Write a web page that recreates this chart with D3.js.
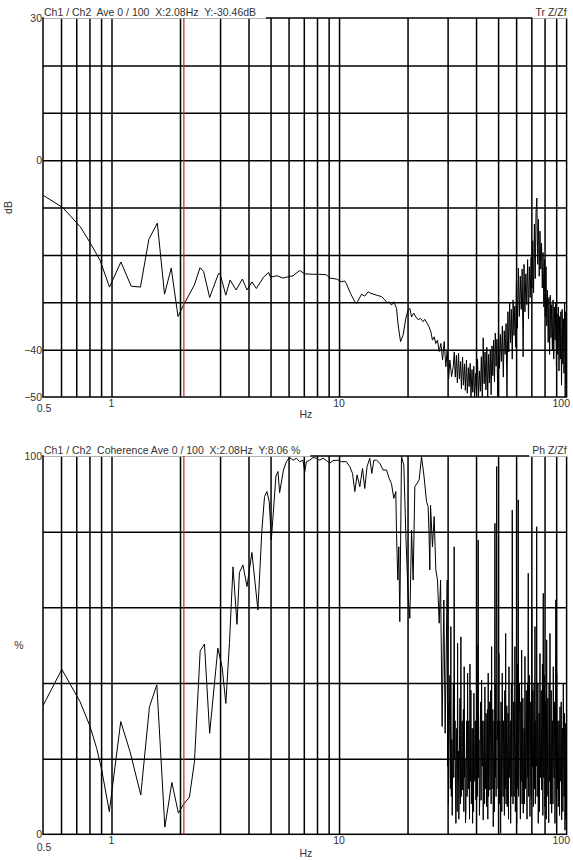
<!DOCTYPE html>
<meta charset="utf-8">
<style>
  body { margin: 0; background: #fff; }
  svg text { font-family: "Liberation Sans", Arial, sans-serif; font-size: 10.5px; fill: #333; }
</style>
<body>

<div class="chart"></div>

<script src="https://d3js.org/d3.v7.min.js"></script>

<script>

// ---- data (frequency in Hz, value) ----
var cursorHz = 2.08;

var xGridHz = [0.6, 0.7, 0.8, 0.9, 1, 2, 3, 4, 5, 6, 7, 8, 9, 10, 20, 30, 40, 50, 60, 70, 80, 90];
var xLabelHz = [1, 10, 100];

var dbGrid = [-40, -30, -20, -10, 0, 10, 20];
var dbLabels = [30, 0, -40, -50];
var pctGrid = [20, 40, 60, 80];
var pctLabels = [100, 0];

// transfer function Z/Zf, dB
var transferDb = [
  [0.50,-7.4],[0.61,-10.0],[0.73,-14.1],[0.80,-17.2],[0.89,-21.1],[0.98,-26.8],[1.10,-21.5],[1.22,-26.6],
  [1.34,-26.8],[1.46,-16.7],[1.59,-13.3],[1.71,-28.3],[1.83,-22.8],[1.96,-33.0],[2.08,-30.46],[2.31,-26.4],
  [2.45,-22.7],[2.54,-23.5],[2.70,-29.0],[2.95,-24.0],[3.00,-24.0],[3.18,-28.5],[3.32,-25.3],[3.53,-27.4],
  [3.76,-25.1],[3.94,-27.4],[4.14,-25.7],[4.33,-27.1],[4.66,-24.7],[4.90,-23.7],[5.00,-24.7],[5.33,-24.4],
  [5.67,-24.9],[6.00,-24.6],[6.28,-24.4],[6.71,-23.3],[7.07,-24.0],[7.69,-24.1],[8.23,-24.1],[8.81,-24.2],
  [9.10,-24.9],[9.75,-25.1],[10.24,-25.7],[10.59,-25.5],[10.77,-26.1],[11.22,-28.1],[11.73,-29.9],[11.97,-30.2],
  [12.55,-28.3],[12.97,-28.7],[13.41,-27.8],[13.76,-28.1],[14.61,-28.5],[15.37,-28.8],[15.89,-29.5],[16.27,-30.1],
  [16.60,-29.9],[17.00,-30.6],[17.40,-29.9],[17.89,-31.3],[18.18,-34.8],[18.63,-38.3],[19.12,-36.9],[19.65,-33.4],
  [20.12,-31.6],[20.47,-31.3],[20.83,-33.1],[21.31,-32.3],[21.75,-33.1],[22.27,-33.7],[22.80,-33.4],[23.42,-34.1],
  [23.81,-33.6],[24.38,-34.4],[24.85,-35.2],[25.31,-36.2],[25.74,-38.0],[26.18,-37.3],[26.63,-38.7],[27.08,-38.0],
  [27.55,-40.4],[28.02,-38.7],[28.50,-42.2],[28.98,-38.3],[29.47,-43.6],[29.87,-40.1],[30.30,-46.1],[30.70,-42.2],
  [31.22,-45.7],[31.75,-43.6],[32.1,-40.5],[32.4,-45.8],[32.8,-41.2],[33.1,-47.0],[33.5,-40.8],[33.8,-46.2],
  [34.2,-42.5],[34.5,-48.3],[34.9,-41.6],[35.2,-47.5],[35.6,-43.0],[35.9,-48.6],[36.3,-42.2],[36.6,-49.2],
  [37.0,-43.8],[37.3,-47.8],[37.7,-42.9],[38.0,-50.0],[38.4,-44.2],[38.7,-49.0],[39.1,-43.5],[39.4,-50.0],
  [39.8,-45.0],[40.2,-49.6],[40.6,-42.0],[41.0,-50.0],[41.4,-44.5],[41.8,-48.8],[42.2,-41.5],[42.6,-50.0],
  [43.0,-37.5],[43.4,-47.2],[43.8,-40.5],[44.2,-48.5],[44.6,-39.5],[45.0,-50.0],[45.4,-41.0],[45.8,-47.0],
  [46.2,-40.0],[46.6,-49.5],[47.0,-39.2],[47.4,-45.5],[47.8,-38.0],[48.2,-46.8],[48.6,-36.5],[49.0,-43.5],
  [49.4,-37.8],[49.8,-50.0],[50.2,-35.5],[50.7,-44.0],[51.2,-36.8],[51.7,-42.5],[52.2,-35.0],[52.7,-45.8],
  [53.2,-36.0],[53.7,-41.0],[54.2,-34.5],[54.7,-50.0],[55.2,-32.0],[55.7,-40.5],[56.2,-30.0],[56.7,-38.5],
  [57.2,-31.5],[57.7,-42.0],[58.2,-29.5],[58.7,-37.0],[59.2,-30.8],[59.7,-39.5],[60.2,-25.0],[60.8,-35.5],
  [61.4,-22.8],[62.0,-33.0],[62.6,-24.5],[63.2,-31.5],[63.8,-23.0],[64.4,-41.5],[65.0,-22.0],[65.6,-32.0],
  [66.2,-24.0],[66.8,-30.5],[67.4,-21.0],[68.0,-33.5],[68.6,-22.5],[69.2,-29.0],[69.8,-20.5],[70.4,-27.0],
  [71.0,-17.0],[71.6,-28.0],[72.2,-13.5],[72.8,-25.0],[73.4,-11.0],[74.0,-8.0],[74.6,-22.0],[75.2,-12.5],
  [75.8,-24.5],[76.4,-15.0],[77.0,-23.0],[77.6,-17.5],[78.2,-27.0],[78.8,-19.5],[79.4,-31.0],[80.0,-21.0],
  [80.6,-33.0],[81.2,-22.5],[81.8,-35.0],[82.4,-27.5],[83.0,-38.5],[83.6,-29.0],[84.2,-41.0],[84.8,-28.5],
  [85.4,-37.5],[86.0,-30.5],[86.6,-40.0],[87.2,-29.5],[87.8,-42.0],[88.4,-31.0],[89.0,-38.0],[89.6,-30.0],
  [90.2,-43.5],[90.8,-32.5],[91.4,-41.0],[92.0,-31.0],[92.6,-44.5],[93.2,-33.0],[93.8,-42.0],[94.4,-32.0],
  [95.0,-47.5],[95.6,-31.5],[96.2,-43.0],[96.8,-33.5],[97.4,-45.0],[98.0,-30.0],[98.6,-50.0],[99.2,-32.0],
  [99.8,-44.0]
];

// coherence, %
var coherencePct = [
  [0.50,34.0],[0.605,43.6],[0.727,35.1],[0.805,28.5],[0.861,22.7],[0.906,17.0],[0.978,6.0],[1.098,29.8],
  [1.207,21.8],[1.345,10.4],[1.468,33.7],[1.582,39.5],[1.716,1.9],[1.842,13.7],[1.968,5.6],[2.08,8.06],
  [2.20,9.8],[2.315,19.2],[2.453,48.5],[2.562,50.3],[2.70,26.7],[2.934,49.2],[3.065,44.1],[3.18,34.6],
  [3.30,50.7],[3.42,70.7],[3.56,55.5],[3.65,69.2],[3.78,71.2],[3.94,65.5],[4.14,74.5],[4.40,59.3],
  [4.58,80.4],[4.705,89.3],[4.82,90.6],[4.935,87.9],[5.04,77.8],[5.28,94.7],[5.39,95.9],[5.48,90.3],
  [5.70,96.3],[5.87,98.5],[6.07,99.6],[6.28,98.9],[6.50,99.4],[6.71,98.5],[6.94,98.9],[7.07,95.9],
  [7.19,98.5],[7.43,98.9],[7.69,99.6],[7.96,99.4],[8.23,98.9],[8.51,99.4],[8.81,98.8],[9.10,98.1],
  [9.41,98.8],[9.90,98.9],[10.24,98.5],[10.77,98.5],[11.14,97.2],[11.46,95.4],[11.73,90.6],[12.00,95.0],
  [12.34,91.9],[12.68,96.7],[12.97,91.4],[13.28,97.2],[13.65,99.4],[13.93,95.4],[14.22,98.9],[14.61,98.9],
  [15.10,98.1],[15.61,96.3],[16.16,96.3],[16.60,94.1],[17.00,92.7],[17.40,88.8],[17.76,90.6],[17.89,79.6],
  [18.12,67.2],[18.31,76.0],[18.49,56.2],[18.81,99.8],[19.26,97.6],[19.65,79.6],[20.12,62.8],[20.47,57.1],
  [20.83,80.4],[21.17,67.2],[21.53,91.9],[22.04,92.8],[22.49,93.7],[23.04,99.8],[23.59,95.0],[24.23,88.0],
  [24.63,86.6],[24.85,79.6],[25.06,69.9],[25.24,87.0],[25.74,76.0],[26.18,84.0],[26.63,69.9],[27.08,67.2],
  [27.55,55.8],[27.93,67.2],[28.38,28.5],[28.88,61.9],[29.26,26.7],[29.87,67.2],
  [30.0,18],[30.1,35],[30.25,8],[30.38,20.5],[30.55,30],[30.7,42],[30.85,12],[31.00,54.9],
  [31.15,10],[31.3,25],[31.42,5],[31.54,16.1],[31.67,28],[31.8,40],[31.93,15],[32.06,76.0],
  [32.2,20],[32.35,30],[32.5,12],[32.62,2.9],[32.75,18],[32.9,28],[33.05,6],[33.19,50.5],
  [33.3,14],[33.45,22],[33.6,4],[33.73,9.1],[33.85,26],[34.0,36],[34.15,8],[34.31,52.2],
  [34.45,10],[34.6,18],[34.75,30],[34.91,11.7],[35.05,24],[35.2,33],[35.35,6],[35.48,44.3],
  [35.65,15],[35.8,20],[35.95,3],[36.10,5.6],[36.25,22],[36.4,30],[36.55,10],[36.73,42.6],
  [36.85,20],[37.0,12],[37.15,30],[37.32,16.1],[37.45,4],[37.6,45],[37.8,14],[37.97,38.1],
  [38.15,8],[38.3,15],[38.45,28],[38.63,2.9],[38.75,20],[38.9,28],[39.0,6],[39.14,37.3],
  [39.3,20],[39.5,14],[39.7,30],[39.94,9.1],[40.15,25],[40.4,50],[40.6,10],[40.88,77.8],
  [41.05,15],[41.2,25],[41.4,5],[41.59,11.7],[41.75,28],[41.9,35],[42.1,9],[42.31,40.8],
  [42.45,22],[42.6,18],[42.8,30],[43.00,3.8],[43.2,20],[43.4,30],[43.6,8],[43.75,39.0],
  [43.9,20],[44.1,12],[44.3,32],[44.51,7.3],[44.7,18],[44.9,33],[45.05,4],[45.24,42.6],
  [45.4,10],[45.6,20],[45.8,35],[46.03,11.7],[46.2,24],[46.4,38],[46.6,8],[46.83,49.6],
  [47.0,12],[47.2,22],[47.4,33],[47.60,2.0],[47.8,18],[48.0,30],[48.2,6],[48.42,82.2],
  [48.6,15],[48.8,40],[49.0,10],[49.27,97.2],[49.56,24.9],[49.8,30],[50.0,12],[50.2,35],
  [50.43,47.8],[50.65,8],[50.9,30],[51.1,18],[51.31,0.3],[51.5,35],[51.7,25],[51.9,6],
  [52.14,42.6],[52.4,20],[52.6,10],[52.8,30],[53.05,16.1],[53.3,5],[53.5,38],[53.75,12],
  [53.98,53.1],[54.2,8],[54.4,20],[54.6,34],[54.86,7.3],[55.1,22],[55.3,32],[55.55,4],
  [55.81,44.3],[56.05,20],[56.3,15],[56.55,30],[56.78,2.9],[57.0,18],[57.2,40],[57.45,10],
  [57.70,85.7],[58.0,30],[58.15,8],[58.29,24.9],[58.55,35],[58.8,10],[59.05,28],[59.29,49.6],
  [59.55,6],[59.8,22],[60.05,35],[60.33,2.9],[60.55,25],[60.8,45],[61.05,12],[61.31,88.4],
  [61.55,10],[61.8,30],[62.1,40],[62.37,16.1],[62.65,4],[62.9,35],[63.2,14],[63.46,48.7],
  [63.75,8],[64.0,20],[64.25,36],[64.49,5.6],[64.75,18],[65.0,28],[65.3,8],[65.61,47.0],
  [65.9,12],[66.2,25],[66.5,38],[66.76,17.9],[67.0,4],[67.3,40],[67.55,15],[67.84,69.0],
  [68.1,10],[68.4,22],[68.7,42],[69.02,4.7],[69.3,20],[69.6,35],[69.9,10],[70.23,60.2],
  [70.5,25],[70.8,18],[71.1,38],[71.37,7.3],[71.7,28],[72.0,40],[72.3,12],[72.61,54.9],
  [72.9,8],[73.2,30],[73.55,18],[73.88,81.3],[74.2,10],[74.5,20],[74.8,40],[75.08,2.9],
  [75.4,20],[75.7,32],[76.0,6],[76.38,47.8],[76.7,15],[77.0,25],[77.35,38],[77.71,11.7],
  [78.0,25],[78.3,45],[78.65,5],[78.98,63.7],[79.3,15],[79.7,28],[80.0,42],[80.35,7.3],
  [80.7,22],[81.0,35],[81.4,4],[81.75,51.4],[82.1,10],[82.4,20],[82.75,36],[83.08,16.1],
  [83.45,3],[83.8,40],[84.15,14],[84.52,53.1],[84.85,8],[85.2,22],[85.6,38],[85.96,5.6],
  [86.3,18],[86.7,30],[87.05,8],[87.39,44.3],[87.75,25],[88.1,15],[88.5,35],[88.91,2.9],
  [89.3,20],[89.7,62],[90.1,10],[90.46,42.6],[90.85,25],[91.2,12],[91.55,30],[91.94,7.3],
  [92.3,22],[92.7,30],[93.1,5],[93.54,33.7],[93.9,18],[94.3,14],[94.7,35],[95.15,3.8],
  [95.5,22],[95.9,28],[96.3,6],[96.72,39.9],[97.1,20],[97.5,10],[97.9,32],[98.39,1.1],
  [98.6,15],[98.8,20],[98.95,4],[99.08,29.3],[99.3,12],[99.6,8],[99.85,25]
];

// ---- layout ----
var W = 573, H = 860;
var left = 43, right = 566.6;

var svg = d3.select(".chart").append("svg")
    .attr("width", W)
    .attr("height", H);

var x = d3.scaleLog().domain([0.5, 100]).range([left, right]);

function panel(p) {
  var y = d3.scaleLinear().domain(p.domain).range([p.bottom, p.top]);
  var g = svg.append("g");

  // clip for the trace
  g.append("clipPath").attr("id", p.id)
    .append("rect")
      .attr("x", left).attr("y", p.top)
      .attr("width", right - left).attr("height", p.bottom - p.top);

  // vertical grid
  g.append("g")
      .attr("transform", "translate(0," + p.bottom + ")")
      .call(d3.axisBottom(x).tickValues(xGridHz).tickSize(-(p.bottom - p.top)).tickFormat(""))
      .call(function(a) { a.select(".domain").remove(); })
      .selectAll("line").attr("stroke", "#000").attr("stroke-width", 1.5);

  // horizontal grid
  g.append("g")
      .attr("transform", "translate(" + left + ",0)")
      .call(d3.axisLeft(y).tickValues(p.grid).tickSize(-(right - left)).tickFormat(""))
      .call(function(a) { a.select(".domain").remove(); })
      .selectAll("line").attr("stroke", "#000").attr("stroke-width", 1.5);

  // frame
  g.append("rect")
      .attr("x", left).attr("y", p.top)
      .attr("width", right - left).attr("height", p.bottom - p.top)
      .attr("fill", "none").attr("stroke", "#000").attr("stroke-width", 1.5);

  // titles with white boxes over the top border
  var t1 = g.append("text")
      .attr("x", left + 1).attr("y", p.top - 2)
      .style("white-space", "pre")
      .text(p.title);
  var b1 = t1.node().getBBox();
  g.insert("rect", function() { return t1.node(); })
      .attr("x", left + 0.8).attr("y", p.top - 12)
      .attr("width", b1.width + 10).attr("height", 12.6)
      .attr("fill", "#fff");

  var t2 = g.append("text")
      .attr("x", right).attr("y", p.top - 2)
      .attr("text-anchor", "end")
      .style("white-space", "pre")
      .text(p.rightTitle);
  var b2 = t2.node().getBBox();
  g.insert("rect", function() { return t2.node(); })
      .attr("x", b2.x - 3).attr("y", p.top - 12)
      .attr("width", right - b2.x + 4).attr("height", 12.6)
      .attr("fill", "#fff");

  // trace
  var line = d3.line()
      .x(function(d) { return x(d[0]); })
      .y(function(d) { return y(Math.max(p.domain[0], Math.min(p.domain[1], d[1]))); });

  g.append("path")
      .datum(p.data)
      .attr("clip-path", "url(#" + p.id + ")")
      .attr("fill", "none")
      .attr("stroke", "#000")
      .attr("stroke-width", 1)
      .attr("d", line);

  // cursor
  g.append("line")
      .attr("x1", x(cursorHz)).attr("x2", x(cursorHz))
      .attr("y1", p.top).attr("y2", p.bottom)
      .attr("stroke", "#c62828").attr("stroke-width", 1.2);

  // y labels
  g.append("g")
      .attr("transform", "translate(" + (left - 1) + ",0)")
      .call(d3.axisLeft(y).tickValues(p.labels).tickSize(0).tickPadding(0))
      .call(function(a) { a.select(".domain").remove(); })
      .attr("font-family", null).attr("font-size", null)
      .selectAll("text")
        .style("fill", "#333");

  // x labels
  g.append("text")
      .attr("x", x(0.5) + 1).attr("y", p.bottom + p.halfDy)
      .attr("text-anchor", "middle")
      .text("0.5");

  g.selectAll(".xlab")
      .data(xLabelHz)
    .enter().append("text")
      .attr("class", "xlab")
      .attr("x", function(d) { return d === 100 ? W - 3 : x(d); })
      .attr("y", p.bottom + p.tickDy)
      .attr("text-anchor", function(d) { return d === 100 ? "end" : "middle"; })
      .text(function(d) { return d; });

  g.append("text")
      .attr("x", (left + right) / 2 + 1).attr("y", p.bottom + p.hzDy)
      .attr("text-anchor", "middle")
      .text("Hz");

  // unit label
  if (p.rotateUnit) {
    g.append("text")
        .attr("transform", "translate(11.5," + ((p.top + p.bottom) / 2) + ") rotate(-90)")
        .attr("text-anchor", "middle")
        .text(p.unit);
  } else {
    g.append("text")
        .attr("x", 19).attr("y", (p.top + p.bottom) / 2 + 4)
        .attr("text-anchor", "middle")
        .text(p.unit);
  }
}

panel({
  id: "clipTop",
  top: 18, bottom: 397,
  domain: [-50, 30],
  grid: dbGrid, labels: dbLabels,
  data: transferDb,
  title: "Ch1 / Ch2  Ave 0 / 100  X:2.08Hz  Y:-30.46dB",
  rightTitle: "Tr Z/Zf",
  unit: "dB", rotateUnit: true,
  tickDy: 10, halfDy: 15, hzDy: 21
});

panel({
  id: "clipBottom",
  top: 456, bottom: 834.3,
  domain: [0, 100],
  grid: pctGrid, labels: pctLabels,
  data: coherencePct,
  title: "Ch1 / Ch2  Coherence Ave 0 / 100  X:2.08Hz  Y:8.06 %",
  rightTitle: "Ph Z/Zf",
  unit: "%", rotateUnit: false,
  tickDy: 10, halfDy: 16.5, hzDy: 23
});

</script>

</body>
